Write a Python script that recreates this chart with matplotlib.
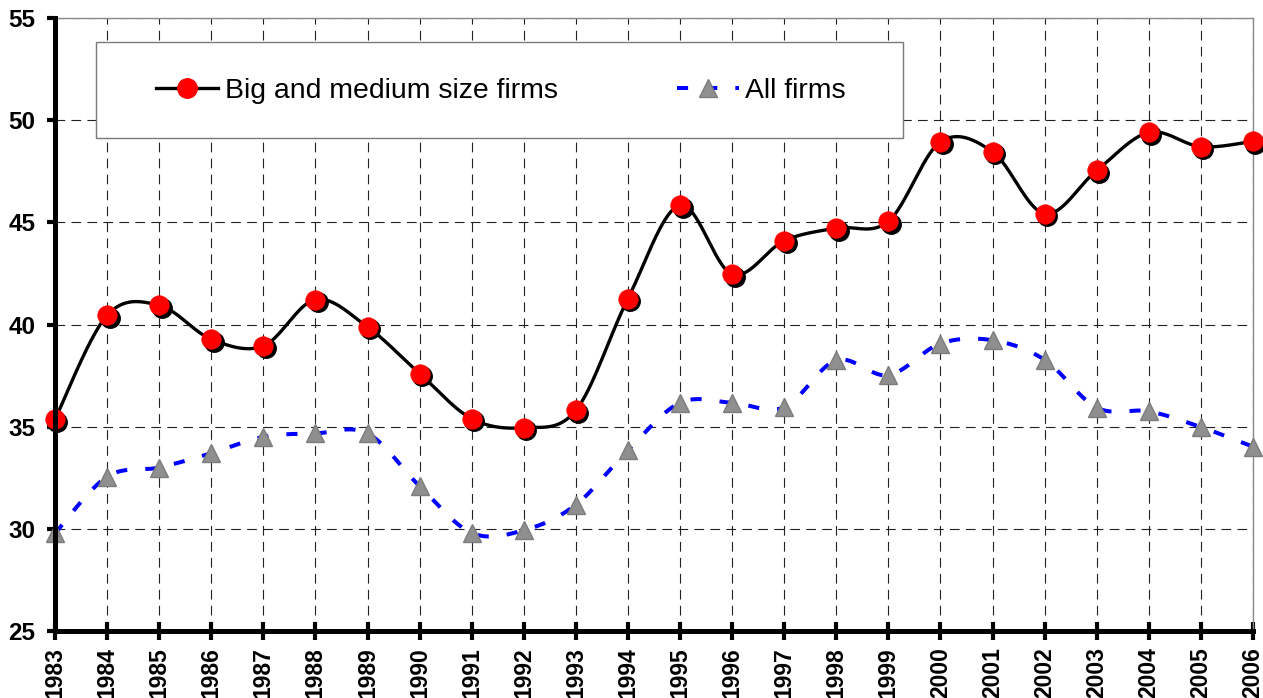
import numpy as np
import matplotlib
matplotlib.use("Agg")
import matplotlib.pyplot as plt
import matplotlib.transforms as mtransforms
from matplotlib.lines import Line2D
from matplotlib.patches import Rectangle

plt.rcParams["font.family"] = ["Liberation Sans", "DejaVu Sans"]
plt.rcParams["lines.scale_dashes"] = False

years = list(range(1983, 2007))
big_medium = [35.36, 40.45, 40.94, 39.28, 38.95, 41.22, 39.88, 37.6, 35.39, 34.95,
              35.8, 41.27, 45.84, 42.46, 44.1, 44.72, 45.05, 48.94, 48.45, 45.42,
              47.54, 49.4, 48.7, 48.96]
all_firms = [29.78, 32.55, 33.0, 33.7, 34.5, 34.67, 34.67, 32.09, 29.8, 29.93,
             31.18, 33.85, 36.17, 36.17, 35.95, 38.25, 37.52, 39.07, 39.23, 38.27,
             35.93, 35.75, 34.98, 34.02]
series_labels = ["Big and medium size firms", "All firms"]
y_ticks = [25, 30, 35, 40, 45, 50, 55]


def smooth(x, y, n=40):
    # Catmull-Rom style cubic Bezier through every point
    pts = np.column_stack([x, y]).astype(float)
    P = np.vstack([pts[0], pts, pts[-1]])
    t = np.linspace(0, 1, n)[:, None]
    out = []
    for i in range(1, len(P) - 2):
        p0, p1, p2, p3 = P[i - 1], P[i], P[i + 1], P[i + 2]
        c1 = p1 + (p2 - p0) / 6
        c2 = p2 - (p3 - p1) / 6
        seg = ((1 - t) ** 3) * p1 + 3 * ((1 - t) ** 2) * t * c1 \
            + 3 * (1 - t) * t ** 2 * c2 + t ** 3 * p2
        out.append(seg if i == 1 else seg[1:])
    out = np.vstack(out)
    return out[:, 0], out[:, 1]


fig = plt.figure(figsize=(12.63, 6.98), dpi=100)
ax = fig.add_axes([55 / 1263, 1 - 631 / 698, 1198 / 1263, 613 / 698])

# all firms: blue dashed smooth line with grey triangles
sx, sy = smooth(years, all_firms)
ax.plot(sx, sy, color="#0000ff", lw=2.9, dashes=(8, 13), zorder=3,
        solid_capstyle="butt", dash_capstyle="butt")
ax.plot(years, all_firms, ls="none", marker="^", ms=13.5,
        mfc="#8f8f8f", mec="#7c7c7c", mew=1, zorder=4, clip_on=False)

# big and medium firms: black smooth line with shadowed red dots
sx, sy = smooth(years, big_medium)
ax.plot(sx, sy, color="black", lw=2.4, zorder=5)
shadow = mtransforms.offset_copy(ax.transData, fig=fig, x=2.5, y=-2.5, units="dots")
ax.plot(years, big_medium, ls="none", marker="o", ms=14, mfc="black", mec="black",
        transform=shadow, zorder=6, clip_on=False)
ax.plot(years, big_medium, ls="none", marker="o", ms=14, mfc="#ff0000", mec="#ff0000",
        mew=0.5, zorder=7, clip_on=False)

ax.set_xlim(1983, 2006)
ax.set_ylim(25, 55)
ax.set_xticks(years)
ax.set_xticklabels([str(y) for y in years], rotation=90, fontweight="bold", fontsize=16.5)
ax.set_yticks(y_ticks)
ax.set_yticklabels([str(v) for v in y_ticks], fontweight="bold", fontsize=17.5)

ax.grid(True, color="#222222", lw=0.8, dashes=(7, 4.5))
ax.set_axisbelow(True)

for side in ["left", "bottom"]:
    ax.spines[side].set_linewidth(3.6)
    ax.spines[side].set_color("black")
    ax.spines[side].set_zorder(8)
for side in ["top", "right"]:
    ax.spines[side].set_linewidth(1)
    ax.spines[side].set_color("#8a8a8a")

ax.tick_params(axis="x", direction="inout", length=13, width=3, pad=5)
ax.tick_params(axis="y", direction="out", length=6, width=3, pad=8)

# legend box
box = Rectangle((0.0342, 0.8042), 0.7078 - 0.0342, 0.9608 - 0.8042,
                transform=ax.transAxes, facecolor="white", edgecolor="#7a7a7a",
                lw=1, zorder=9)
ax.add_patch(box)
handles = [
    Line2D([], [], color="black", lw=2.4, marker="o", ms=14,
           mfc="#ff0000", mec="#ff0000"),
    Line2D([], [], color="#0000ff", lw=2.9, dashes=(8, 13), marker="^", ms=13.5,
           mfc="#8f8f8f", mec="#7c7c7c"),
]
leg = ax.legend(handles, series_labels, loc="center left",
                bbox_to_anchor=(0.0843, 0.8809), ncol=2, frameon=False,
                fontsize=20.4, borderpad=0, borderaxespad=0, handlelength=2.2,
                handletextpad=0.22, columnspacing=4.2, numpoints=1)
leg.set_zorder(10)

fig.savefig("out.png", dpi=100)
